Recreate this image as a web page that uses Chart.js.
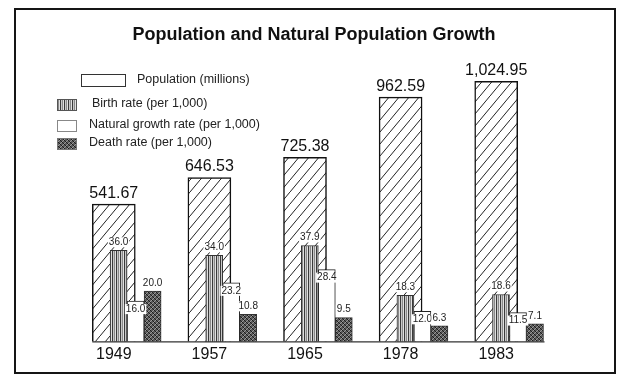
<!DOCTYPE html>
<html><head><meta charset="utf-8">
<script src="https://cdn.jsdelivr.net/npm/chart.js@4/dist/chart.umd.min.js"></script>
<style>html,body{margin:0;padding:0;background:#fff;} #wrap{width:628px;height:376px;position:relative;}</style>
</head><body><div id="wrap"><canvas id="c" width="628" height="376"></canvas></div>
<script>
const years = ['1949', '1957', '1965', '1978', '1983'];
const population = [541.67, 646.53, 725.38, 962.59, 1024.95];
const birthRate = [36.0, 34.0, 37.9, 18.3, 18.6];
const naturalGrowthRate = [16.0, 23.2, 28.4, 12.0, 11.5];
const deathRate = [20.0, 10.8, 9.5, 6.3, 7.1];
const titleText = 'Population and Natural Population Growth';
const legendLabels = ['Population (millions)', 'Birth rate (per 1,000)', 'Natural growth rate (per 1,000)', 'Death rate (per 1,000)'];

function makePattern(w, h, draw) {
  const t = document.createElement('canvas');
  t.width = w; t.height = h;
  const c = t.getContext('2d');
  draw(c, w, h);
  return c.createPattern(t, 'repeat');
}
const hatch = makePattern(10, 12, (c, w, h) => {
  c.fillStyle = '#fff'; c.fillRect(0, 0, w, h);
  c.strokeStyle = '#222'; c.lineWidth = 1;
  c.beginPath(); c.moveTo(-1, h + h / w); c.lineTo(w + 1, -h / w); c.stroke();
});
const stripes = makePattern(4, 4, (c, w, h) => {
  const cols = ['#3a3a3a', '#c8c8c8', '#8a8a8a', '#e0e0e0'];
  cols.forEach((col, i) => { c.fillStyle = col; c.fillRect(i, 0, 1, h); });
});
const cross = makePattern(4, 4, (c, w, h) => {
  c.fillStyle = '#5a5a5a'; c.fillRect(0, 0, w, h);
  for (let i = 0; i < 4; i++) {
    c.fillStyle = '#1c1c1c'; c.fillRect(i, i, 1, 1);
    c.fillStyle = '#9a9a9a'; c.fillRect(i, 3 - i, 1, 1);
  }
});

const rateSets = [birthRate, naturalGrowthRate, deathRate];

const framePlugin = {
  id: 'frame',
  beforeDraw(chart) {
    const ctx = chart.ctx;
    ctx.save(); ctx.fillStyle = '#fff'; ctx.fillRect(0, 0, chart.width, chart.height); ctx.restore();
  },
  afterDraw(chart) {
    const ctx = chart.ctx;
    ctx.save();
    ctx.strokeStyle = '#151515'; ctx.lineWidth = 2;
    ctx.strokeRect(15, 9, 600, 364);
    ctx.fillStyle = '#111';
    ctx.font = 'bold 18px "Liberation Sans Narrow", "Liberation Sans", Arial, sans-serif';
    ctx.textAlign = 'center'; ctx.textBaseline = 'middle';
    ctx.fillText(titleText, 314, 35);
    const boxes = [
      {x: 81, y: 74, w: 44, h: 12, fill: '#fff', stroke: '#333', tx: 137, ty: 80},
      {x: 57, y: 99, w: 19, h: 11, fill: stripes, stroke: '#555', tx: 92, ty: 104},
      {x: 57, y: 120, w: 19, h: 11, fill: '#fff', stroke: '#888', tx: 89, ty: 125},
      {x: 57, y: 138, w: 19, h: 11, fill: cross, stroke: '#777', tx: 89, ty: 143}
    ];
    ctx.font = '12.5px "Liberation Sans", Arial, sans-serif';
    ctx.textBaseline = 'middle'; ctx.textAlign = 'left';
    boxes.forEach((b, i) => {
      ctx.fillStyle = b.fill; ctx.fillRect(b.x, b.y, b.w, b.h);
      ctx.strokeStyle = b.stroke; ctx.lineWidth = 1;
      ctx.strokeRect(b.x + 0.5, b.y + 0.5, b.w, b.h);
      ctx.fillStyle = '#222';
      ctx.fillText(legendLabels[i], b.tx, b.ty);
    });
    ctx.restore();
  },
  afterDatasetsDraw(chart) {
    const ctx = chart.ctx;
    ctx.save();
    const popMeta = chart.getDatasetMeta(0);
    const deathMeta = chart.getDatasetMeta(3);
    const base = popMeta.data[0].base;
    ctx.strokeStyle = '#333'; ctx.lineWidth = 1.2;
    ctx.beginPath();
    ctx.moveTo(popMeta.data[0].x - popMeta.data[0].width / 2, base);
    const last = deathMeta.data[deathMeta.data.length - 1];
    ctx.lineTo(last.x + last.width / 2 + 1, base);
    ctx.stroke();
    ctx.textAlign = 'center'; ctx.textBaseline = 'middle';
    ctx.fillStyle = '#111';
    ctx.font = '16px "Liberation Sans", Arial, sans-serif';
    popMeta.data.forEach((bar, i) => {
      const txt = population[i].toLocaleString('en-US', {minimumFractionDigits: 2, maximumFractionDigits: 2});
      ctx.fillText(txt, bar.x, bar.y - 11);
    });
    ctx.font = '10px "Liberation Sans", Arial, sans-serif';
    [1, 2, 3].forEach((di, k) => {
      const meta = chart.getDatasetMeta(di);
      meta.data.forEach((bar, i) => {
        const txt = rateSets[k][i].toFixed(1);
        const y = k === 1 ? bar.y + 8 : bar.y - 8;
        const w = ctx.measureText(txt).width;
        ctx.fillStyle = '#fff';
        ctx.fillRect(bar.x - w / 2 - 1, y - 5, w + 2, 10);
        ctx.fillStyle = '#222';
        ctx.fillText(txt, bar.x, y);
      });
    });
    ctx.restore();
  }
};

new Chart(document.getElementById('c'), {
  type: 'bar',
  data: {
    labels: years,
    datasets: [
      {label: legendLabels[0], data: population, xAxisID: 'x', yAxisID: 'y', order: 10, grouped: false,
       categoryPercentage: 1, barPercentage: 1, maxBarThickness: 43,
       backgroundColor: hatch, borderColor: '#111', borderWidth: 1.5},
      {label: legendLabels[1], data: birthRate.map((v, i) => ({x: i, y: v})), xAxisID: 'x2', yAxisID: 'y2', order: 0,
       backgroundColor: stripes, borderColor: '#333', borderWidth: 1, barThickness: 17},
      {label: legendLabels[2], data: naturalGrowthRate.map((v, i) => ({x: i, y: v})), xAxisID: 'x2', yAxisID: 'y2', order: 0,
       backgroundColor: '#fff', borderColor: '#222', borderWidth: 1, barThickness: 17},
      {label: legendLabels[3], data: deathRate.map((v, i) => ({x: i, y: v})), xAxisID: 'x2', yAxisID: 'y2', order: 0,
       backgroundColor: cross, borderColor: '#333', borderWidth: 1, barThickness: 17}
    ]
  },
  options: {
    responsive: false,
    animation: false,
    events: [],
    layout: {padding: {top: 47, left: 66, right: 84, bottom: 9}},
    scales: {
      x: {type: 'category', offset: true, grid: {display: false, drawTicks: false}, border: {display: false},
          ticks: {color: '#111', padding: 3, font: {family: '"Liberation Sans Narrow", "Liberation Sans", Arial, sans-serif', size: 16}}},
      x2: {type: 'linear', display: false, min: -0.817, max: 4.183, offset: false},
      y: {display: false, min: 0, max: 1160},
      y2: {display: false, min: 0, max: 116}
    },
    plugins: {
      legend: {display: false},
      tooltip: {enabled: false},
      title: {display: false, text: titleText}
    }
  },
  plugins: [framePlugin]
});
</script></body></html>
